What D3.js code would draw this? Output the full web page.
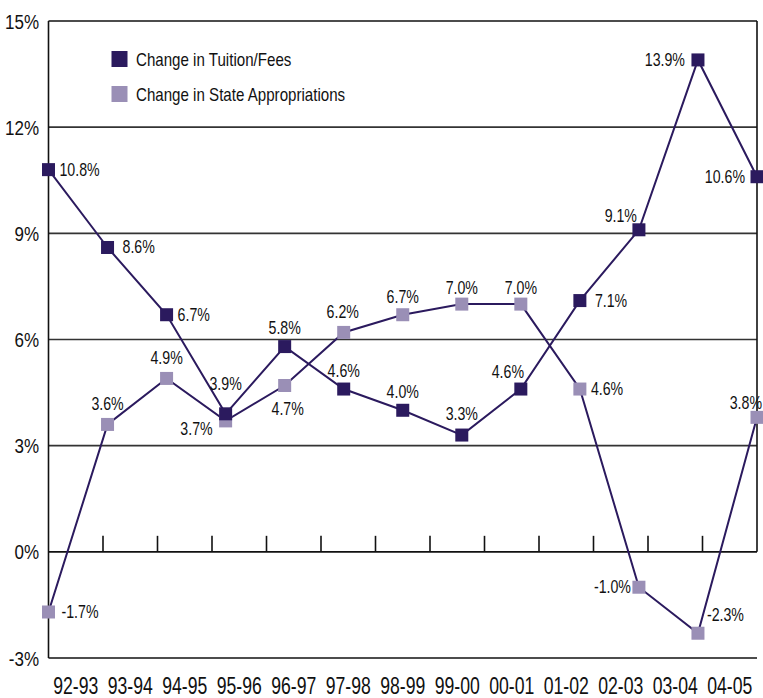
<!DOCTYPE html>
<html><head><meta charset="utf-8">
<script src="https://cdn.jsdelivr.net/npm/d3@7"></script>
<style>
body{margin:0;background:#fff;}
text{font-family:"Liberation Sans",Arial,sans-serif;fill:#111;}
</style></head>
<body>
<svg id="c" width="763" height="698"></svg>
<script>
const categories = ["92-93","93-94","94-95","95-96","96-97","97-98","98-99","99-00","00-01","01-02","02-03","03-04","04-05"];
const tuition = [10.8, 8.6, 6.7, 3.9, 5.8, 4.6, 4.0, 3.3, 4.6, 7.1, 9.1, 13.9, 10.6];
const appropriations = [-1.7, 3.6, 4.9, 3.7, 4.7, 6.2, 6.7, 7.0, 7.0, 4.6, -1.0, -2.3, 3.8];
const yTicks = [-3, 0, 3, 6, 9, 12, 15];
const seriesNames = ["Change in Tuition/Fees", "Change in State Appropriations"];

// label placement: [dx, dy, anchor]
const tuitionLabelPos = [[11,6,"start"],[15,6,"start"],[11,6,"start"],[0,-24,"middle"],[0,-13,"middle"],[0,-12,"middle"],[0,-12,"middle"],[0,-15,"middle"],[-13,-11,"middle"],[15,6,"start"],[-2,-8,"end"],[-13,6,"end"],[-12,6,"end"]];
const appropLabelPos = [[13,6,"start"],[0,-14,"middle"],[0,-14,"middle"],[-13,14,"end"],[3,29,"middle"],[-1,-14,"middle"],[0,-12,"middle"],[0,-10,"middle"],[0,-10,"middle"],[11,6,"start"],[-8,6,"end"],[9,-12,"start"],[5,-8,"end"]];

const dark = "#2b1a5e", light = "#9a8fb6";
const L = 48.5, R = 757, T = 21, B = 658;
const svg = d3.select("#c");

const y = d3.scaleLinear().domain([-3, 15]).range([B, T]);
const xp = d3.scalePoint().domain(categories).range([L, R]);
const xb = d3.scaleBand().domain(categories).range([L, R]);

function place(sel, fx, fy, sx) {
  sel.attr("transform", (d, i) => `translate(${fx(d, i)},${fy(d, i)}) scale(${sx},1)`);
}

// gridlines
const g = svg.append("g");
g.selectAll("line.grid").data(yTicks).join("line")
  .attr("x1", L).attr("x2", R).attr("y1", d => y(d)).attr("y2", d => y(d))
  .attr("stroke", d => (d === 0 || d === -3 || d === 15) ? "#111" : "#333")
  .attr("stroke-width", 1.6);
g.append("line").attr("x1", L).attr("x2", L).attr("y1", y(15)).attr("y2", y(-3)).attr("stroke", "#111").attr("stroke-width", 1.6);
g.append("line").attr("x1", R).attr("x2", R).attr("y1", y(15)).attr("y2", y(0)).attr("stroke", "#111").attr("stroke-width", 1.6);
g.selectAll("line.tick").data(categories.slice(1)).join("line")
  .attr("x1", d => xb(d)).attr("x2", d => xb(d))
  .attr("y1", y(0)).attr("y2", y(0) - 16)
  .attr("stroke", "#111").attr("stroke-width", 1.6);

// y axis labels
svg.append("g").selectAll("text").data(yTicks).join("text")
  .attr("text-anchor", "end").attr("font-size", 21)
  .call(place, d => 39, d => y(d) + 7.5, 0.81)
  .text(d => d + "%");

// x labels
svg.append("g").selectAll("text").data(categories).join("text")
  .attr("text-anchor", "middle").attr("font-size", 23.5)
  .call(place, d => xb(d) + xb.bandwidth() / 2, d => 693.5, 0.75)
  .text(d => d);

const line = d3.line().x((d, i) => xp(categories[i])).y(d => y(d));
const series = [
  {vals: appropriations, color: light, pos: appropLabelPos},
  {vals: tuition, color: dark, pos: tuitionLabelPos}
];
series.forEach(s => {
  svg.append("path").datum(s.vals).attr("d", line)
    .attr("fill", "none").attr("stroke", dark).attr("stroke-width", 2);
});
series.forEach(s => {
  svg.append("g").selectAll("rect").data(s.vals).join("rect")
    .attr("x", (d, i) => xp(categories[i]) - 6.5).attr("y", d => y(d) - 6.5)
    .attr("width", 13).attr("height", 13).attr("fill", s.color);
  svg.append("g").selectAll("text").data(s.vals).join("text")
    .attr("text-anchor", (d, i) => s.pos[i][2])
    .attr("font-size", 17.5)
    .call(place, (d, i) => xp(categories[i]) + s.pos[i][0], (d, i) => y(d) + s.pos[i][1], 0.81)
    .text(d => d.toFixed(1) + "%");
});

// legend
const lg = svg.append("g");
[dark, light].forEach((c, i) => {
  lg.append("rect").attr("x", 111.5).attr("y", 51 + i * 35).attr("width", 16).attr("height", 16).attr("fill", c);
  lg.append("text").attr("font-size", 18)
    .attr("transform", `translate(136,${66 + i * 35}) scale(0.84,1)`)
    .text(seriesNames[i]);
});
</script>
</body></html>
